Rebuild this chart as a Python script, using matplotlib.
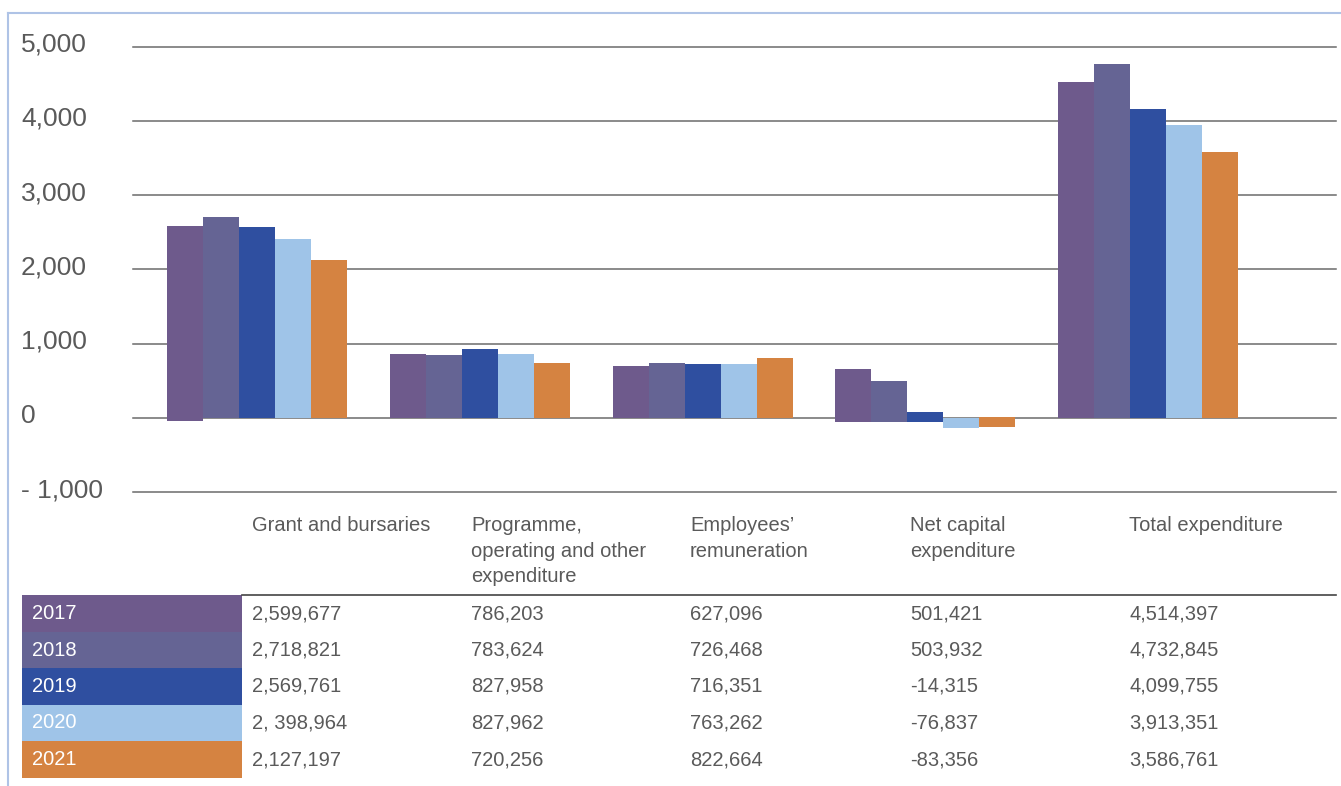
import numpy as np
import matplotlib
matplotlib.use("Agg")
import matplotlib.pyplot as plt
from matplotlib.patches import Rectangle
from matplotlib.lines import Line2D

plt.rcParams['font.family'] = ['Liberation Sans', 'DejaVu Sans']

# ====================== data ======================
categories = ["Grant and bursaries", "Programme,\noperating and other\nexpenditure",
              "Employees’\nremuneration", "Net capital\nexpenditure", "Total expenditure"]
years = ["2017", "2018", "2019", "2020", "2021"]
colors = ["#6E5A8C", "#656494", "#2F4FA0", "#9FC4E8", "#D58341"]

# bar tops / bases as drawn in the chart (R thousand)
tops_2017 = [2585, 862, 700, 660, 4524]
tops_2018 = [2706, 848, 741, 498, 4766]
tops_2019 = [2572, 929, 727, 81, 4160]
tops_2020 = [2410, 862, 727, 0, 3945]
tops_2021 = [2127, 741, 808, 13, 3581]
base_2017 = [-36, 0, 0, -54, 0]
base_2018 = [0, 0, 0, -54, 0]
base_2019 = [0, 0, 0, -54, 0]
base_2020 = [0, 0, 0, -130, 0]
base_2021 = [0, 0, 0, -117, 0]

# table values
tbl_2017 = ["2,599,677", "786,203", "627,096", "501,421", "4,514,397"]
tbl_2018 = ["2,718,821", "783,624", "726,468", "503,932", "4,732,845"]
tbl_2019 = ["2,569,761", "827,958", "716,351", "-14,315", "4,099,755"]
tbl_2020 = ["2, 398,964", "827,962", "763,262", "-76,837", "3,913,351"]
tbl_2021 = ["2,127,197", "720,256", "822,664", "-83,356", "3,586,761"]

yticks = [5000, 4000, 3000, 2000, 1000, 0, -1000]
ytick_labels = ["5,000", "4,000", "3,000", "2,000", "1,000", "0", "- 1,000"]

tops = [tops_2017, tops_2018, tops_2019, tops_2020, tops_2021]
bases = [base_2017, base_2018, base_2019, base_2020, base_2021]
tbl = [tbl_2017, tbl_2018, tbl_2019, tbl_2020, tbl_2021]

# ====================== figure ======================
W, H = 1341, 786
fig = plt.figure(figsize=(W / 100, H / 100), dpi=100)

def fx(px):
    return px / W

def fy(py):
    return 1 - py / H

TXT = "#5a5a5a"
GRID = "#6b6b6b"

ax_l, ax_r, ax_t, ax_b = 133, 1336, 46.7, 496.7
ax = fig.add_axes([fx(ax_l), fy(ax_b), fx(ax_r - ax_l), (ax_b - ax_t) / H])
ymin = -(ax_b - 418) / ((418 - ax_t) / 5000)
ax.set_ylim(ymin, 5000)
ax.set_xlim(-0.557, 4.844)
ax.axis("off")

for t in yticks:
    ax.axhline(t, color=GRID, lw=1.1, zorder=1, clip_on=False)

x = np.arange(len(categories))
bw = 0.1616
for i in range(len(years)):
    b = np.array(bases[i])
    h = np.array(tops[i]) - b
    ax.bar(x + (i - 2) * bw, h, bottom=b, width=bw, color=colors[i], zorder=2)

# y labels
for t, lab in zip(yticks, ytick_labels):
    ypx = 418 - t * (418 - ax_t) / 5000
    fig.text(fx(21), fy(ypx - 2), lab, fontsize=19, color=TXT, ha="left", va="center")

# frame lines (light blue)
fig.add_artist(Line2D([fx(8), fx(8)], [fy(13), fy(786)], color="#AFC3E6", lw=1.5))
fig.add_artist(Line2D([fx(8), fx(1341)], [fy(13), fy(13)], color="#AFC3E6", lw=1.5))

# ====================== table ======================
col_x = [252, 471, 690, 910, 1129]
for cx, cat in zip(col_x, categories):
    fig.text(fx(cx), fy(516), cat, fontsize=14.5, color=TXT, ha="left", va="top",
             linespacing=1.45)

fig.add_artist(Line2D([fx(242), fx(1336)], [fy(595), fy(595)], color="#444444", lw=1.2))

row_edges = [595, 632, 668, 705, 741, 778]
for i, yr in enumerate(years):
    y0, y1 = row_edges[i], row_edges[i + 1]
    fig.add_artist(Rectangle((fx(22), fy(y1)), fx(242 - 22), (y1 - y0) / H,
                             facecolor=colors[i], edgecolor="none"))
    yc = (y0 + y1) / 2
    fig.text(fx(32), fy(yc), yr, fontsize=14.5, color="white", ha="left", va="center")
    for cx, v in zip(col_x, tbl[i]):
        fig.text(fx(cx), fy(yc), v, fontsize=14.5, color=TXT, ha="left", va="center")

fig.savefig("out.png", dpi=100)
